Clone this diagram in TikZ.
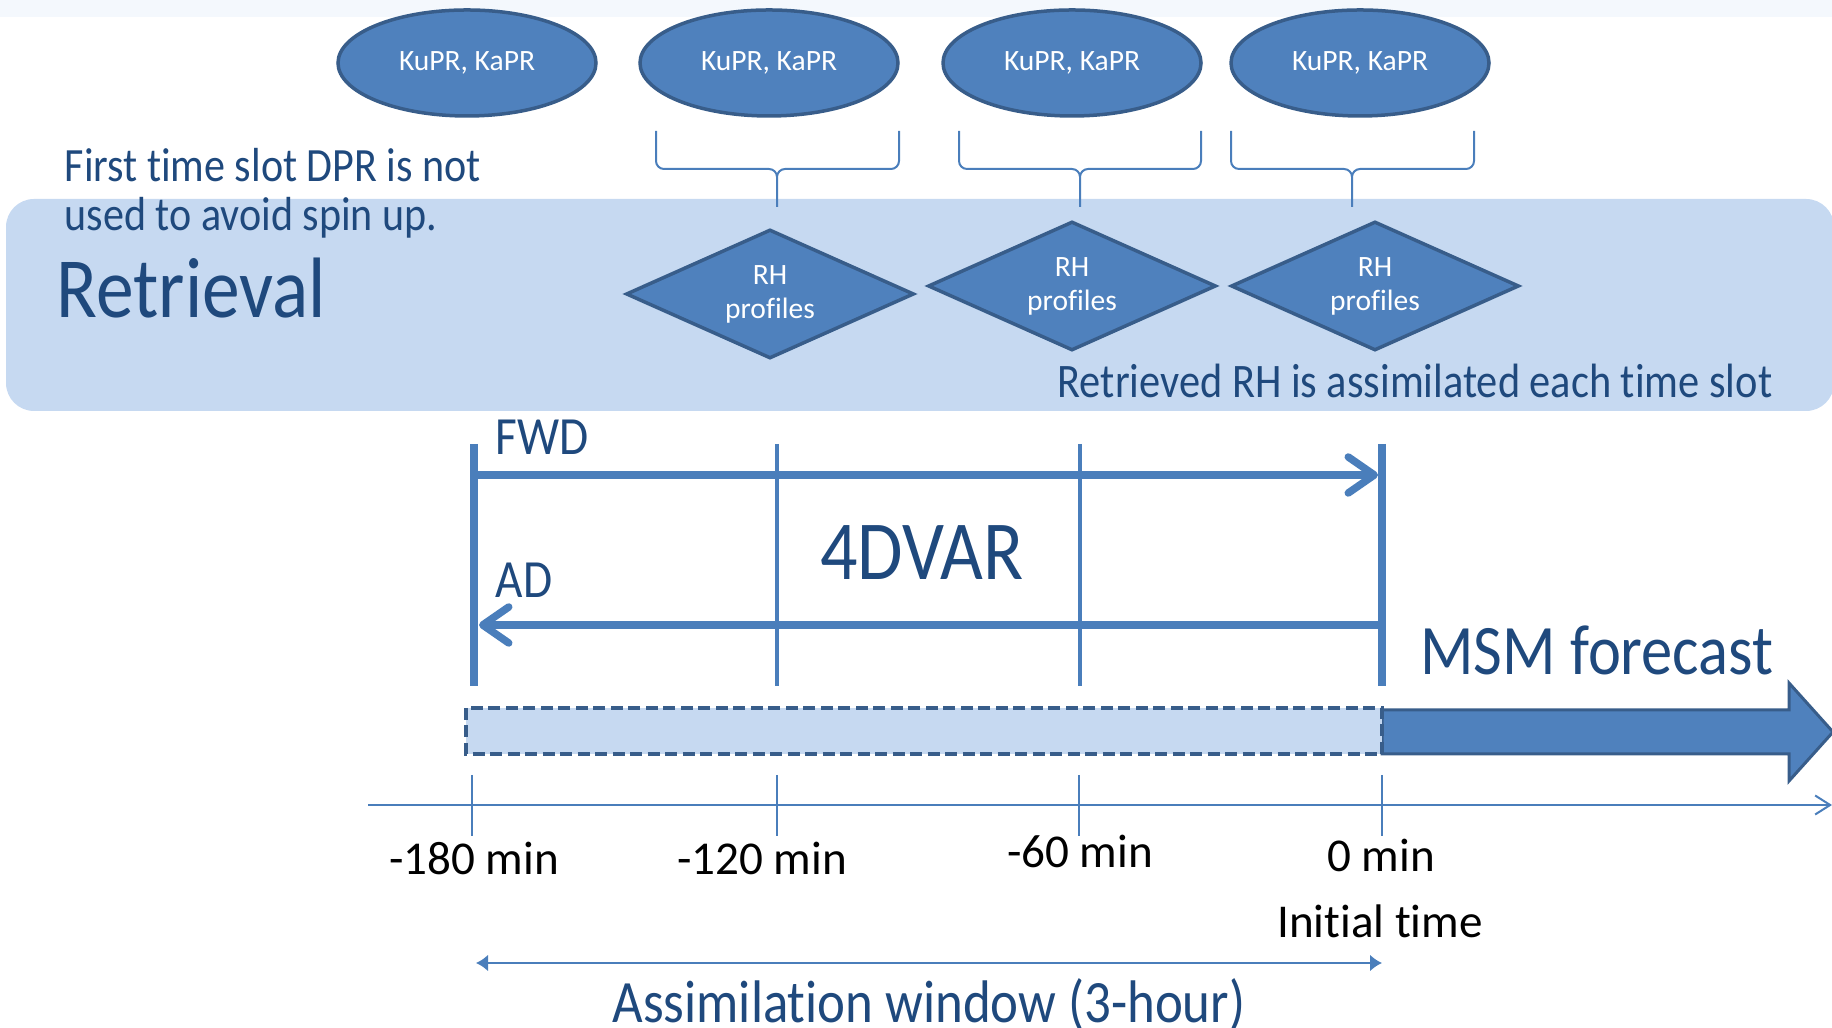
\documentclass[tikz,border=0pt]{standalone}
\usepackage{fontspec}
\setmainfont{Carlito}[Ligatures=NoCommon]
\newfontfamily\condfont{Carlito}[FakeStretch=0.88, Ligatures=NoCommon]
\usetikzlibrary{shapes.geometric,arrows.meta}
\definecolor{accent}{HTML}{4F81BD}
\definecolor{accentdark}{HTML}{385D8A}
\definecolor{lineblue}{HTML}{4A7EBB}
\definecolor{navy}{HTML}{1F497D}
\definecolor{paleblue}{HTML}{C6D9F1}
\definecolor{haze}{HTML}{F4F8FD}

\begin{document}
\begin{tikzpicture}[x=0.1mm, y=-0.1mm,
    sensor/.style={ellipse, draw=accentdark, fill=accent, line width=0.35mm,
        minimum width=25.8mm, minimum height=10.6mm, inner sep=0pt,
        text=white, font=\fontsize{8.4}{9.7}\selectfont},
    rhbox/.style={diamond, draw=accentdark, fill=accent, line width=0.35mm,
        minimum width=28.8mm, minimum height=12.9mm, aspect=2.2, inner sep=0pt,
        text=white, align=center, font=\fontsize{8.4}{9.7}\selectfont},
    bluetext/.style={text=navy, inner sep=0pt},
    ticklabel/.style={inner sep=0pt, font=\fontsize{13.4}{16}\selectfont},
    brace/.style={draw=lineblue, line width=0.2mm, rounded corners=0.8mm},
    slotline/.style={draw=lineblue, line width=0.35mm},
    runarrow/.style={draw=lineblue, line width=0.75mm,
        -{Straight Barb[length=2.6mm,width=3.6mm,round]}}]
    \useasboundingbox (0,0) rectangle (1832,1028);
    \fill[haze] (0,0) rectangle (1832,17);
    \fill[paleblue, rounded corners=2.8mm] (6,199) rectangle (1834,411);

    \foreach \n/\x in {1/467, 2/769, 3/1072, 4/1360}
        \node[sensor] (obs\n) at (\x,63) {KuPR, KaPR};
    \foreach \a/\m/\b in {656/777/899, 959/1080/1201, 1231/1352/1474}
        \draw[brace]
            (\a,131) -- (\a,169) -- (\m,169) -- (\m,207)
            (\b,131) -- (\b,169) -- (\m,169) -- (\m,207);
    \foreach \n/\p in {1/{770,294}, 2/{1072,286}, 3/{1375,286}}
        \node[rhbox] (rh\n) at (\p) {RH\\profiles};

    \node[bluetext, anchor=base west, align=left,
        font=\condfont\fontsize{13.6}{14.2}\selectfont] (note) at (64,231)
        {First time slot DPR is not\\used to avoid spin up.};
    \node[bluetext, anchor=base west, font=\condfont\fontsize{24.4}{28}\selectfont]
        (retrieval) at (56,318) {Retrieval};
    \node[bluetext, anchor=base east, font=\condfont\fontsize{13.7}{16}\selectfont]
        (assim) at (1773,398) {Retrieved RH is assimilated each time slot};

    \foreach \n/\x in {1/474, 2/777, 3/1080, 4/1382} {
        \coordinate (top\n) at (\x,444);
        \coordinate (bot\n) at (\x,686);
    }
    \draw[slotline, line width=0.75mm] (top1) -- (bot1) (top4) -- (bot4);
    \draw[slotline] (top2) -- (bot2) (top3) -- (bot3);
    \coordinate (fwdL) at (474,475);
    \coordinate (fwdR) at (1378,475);
    \coordinate (adR) at (1382,625);
    \coordinate (adL) at (479,625);
    \draw[runarrow] (fwdL) -- (fwdR);
    \draw[runarrow] (adR) -- (adL);
    \path[bluetext, font=\condfont\fontsize{15.3}{18}\selectfont]
        (495,455) node[anchor=base west] (fwd) {FWD}
        (495,598) node[anchor=base west] (ad) {AD};
    \node[bluetext, anchor=base, font=\condfont\fontsize{23.9}{28}\selectfont]
        (vard) at (922,580) {4DVAR};

    \fill[accent, draw=accentdark, line width=0.3mm]
        (1382,710) -- (1789,710) -- (1789,683) -- (1833,732)
        -- (1789,781) -- (1789,754) -- (1382,754) -- cycle;
    \draw[fill=paleblue, draw=accentdark, line width=0.4mm,
        dash pattern=on 1.2mm off 0.55mm] (466,708) rectangle (1382,754);
    \node[bluetext, anchor=base, font=\condfont\fontsize{20.2}{24}\selectfont]
        (msm) at (1597,675) {MSM forecast};

    \coordinate (axL) at (368,805);
    \coordinate (axR) at (1832,805);
    \draw[lineblue, line width=0.2mm, -{Straight Barb[length=1.5mm,width=1.9mm]}]
        (axL) -- (axR);
    \foreach \x in {472, 777, 1079, 1382}
        \draw[lineblue, line width=0.2mm] (\x,775) -- (\x,836);
    \path[ticklabel]
        \foreach \p/\v/\t in {
            {474,875}/m180/-180 min,
            {762,875}/m120/-120 min,
            {1080,868}/m60/-60 min,
            {1381,872}/zero/0 min,
            {1380,937}/init/Initial time
        } {
            (\p) node[anchor=base] (lab\v) {\t}
        };

    \coordinate (winL) at (476,963);
    \coordinate (winR) at (1382,963);
    \draw[lineblue, line width=0.27mm,
        {Latex[length=1.2mm,width=1.7mm]}-{Latex[length=1.2mm,width=1.7mm]}]
        (winL) -- (winR);
    \node[bluetext, anchor=base, font=\condfont\fontsize{17.1}{20}\selectfont]
        (window) at (929,1022) {Assimilation window (3-hour)};
\end{tikzpicture}
\end{document}
